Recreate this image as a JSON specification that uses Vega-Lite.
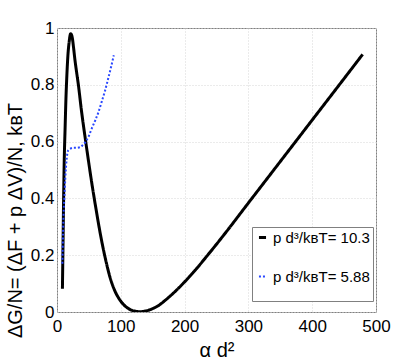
{
  "$schema": "https://vega.github.io/schema/vega-lite/v6.json",
  "autosize": "none",
  "width": 319,
  "height": 284,
  "padding": {"left": 57, "top": 28, "right": 39, "bottom": 48},
  "config": {
    "font": "Liberation Sans",
    "view": {"stroke": "#808080", "strokeWidth": 1},
    "axis": {"domain": false, "ticks": false, "grid": true, "gridColor": "#d6d6d6", "gridDash": [1, 2], "labelColor": "black", "titleColor": "black", "labelFlush": false, "titleFontWeight": "normal"}
  },
  "datasets": {
    "curves": [
      {"series": "p d³/kʙT= 10.3", "ad2": 8.5, "dG": 0.082},
      {"series": "p d³/kʙT= 10.3", "ad2": 9.5, "dG": 0.25},
      {"series": "p d³/kʙT= 10.3", "ad2": 10.5, "dG": 0.42},
      {"series": "p d³/kʙT= 10.3", "ad2": 11.5, "dG": 0.55},
      {"series": "p d³/kʙT= 10.3", "ad2": 12.6, "dG": 0.64},
      {"series": "p d³/kʙT= 10.3", "ad2": 14, "dG": 0.75},
      {"series": "p d³/kʙT= 10.3", "ad2": 15.2, "dG": 0.82},
      {"series": "p d³/kʙT= 10.3", "ad2": 17, "dG": 0.9},
      {"series": "p d³/kʙT= 10.3", "ad2": 19, "dG": 0.95},
      {"series": "p d³/kʙT= 10.3", "ad2": 21.5, "dG": 0.98},
      {"series": "p d³/kʙT= 10.3", "ad2": 24, "dG": 0.965},
      {"series": "p d³/kʙT= 10.3", "ad2": 26, "dG": 0.93},
      {"series": "p d³/kʙT= 10.3", "ad2": 28, "dG": 0.89},
      {"series": "p d³/kʙT= 10.3", "ad2": 31, "dG": 0.84},
      {"series": "p d³/kʙT= 10.3", "ad2": 33.5, "dG": 0.8},
      {"series": "p d³/kʙT= 10.3", "ad2": 38, "dG": 0.715},
      {"series": "p d³/kʙT= 10.3", "ad2": 45, "dG": 0.6},
      {"series": "p d³/kʙT= 10.3", "ad2": 50, "dG": 0.522},
      {"series": "p d³/kʙT= 10.3", "ad2": 55.5, "dG": 0.44},
      {"series": "p d³/kʙT= 10.3", "ad2": 60, "dG": 0.378},
      {"series": "p d³/kʙT= 10.3", "ad2": 64, "dG": 0.325},
      {"series": "p d³/kʙT= 10.3", "ad2": 67.5, "dG": 0.28},
      {"series": "p d³/kʙT= 10.3", "ad2": 72, "dG": 0.228},
      {"series": "p d³/kʙT= 10.3", "ad2": 78, "dG": 0.167},
      {"series": "p d³/kʙT= 10.3", "ad2": 83, "dG": 0.123},
      {"series": "p d³/kʙT= 10.3", "ad2": 90, "dG": 0.078},
      {"series": "p d³/kʙT= 10.3", "ad2": 100, "dG": 0.038},
      {"series": "p d³/kʙT= 10.3", "ad2": 110, "dG": 0.015},
      {"series": "p d³/kʙT= 10.3", "ad2": 120, "dG": 0.004},
      {"series": "p d³/kʙT= 10.3", "ad2": 130, "dG": 0.001},
      {"series": "p d³/kʙT= 10.3", "ad2": 140, "dG": 0.004},
      {"series": "p d³/kʙT= 10.3", "ad2": 150, "dG": 0.012},
      {"series": "p d³/kʙT= 10.3", "ad2": 160, "dG": 0.024},
      {"series": "p d³/kʙT= 10.3", "ad2": 170, "dG": 0.042},
      {"series": "p d³/kʙT= 10.3", "ad2": 185, "dG": 0.072},
      {"series": "p d³/kʙT= 10.3", "ad2": 200, "dG": 0.106},
      {"series": "p d³/kʙT= 10.3", "ad2": 218, "dG": 0.151},
      {"series": "p d³/kʙT= 10.3", "ad2": 235, "dG": 0.197},
      {"series": "p d³/kʙT= 10.3", "ad2": 260, "dG": 0.267},
      {"series": "p d³/kʙT= 10.3", "ad2": 300, "dG": 0.384},
      {"series": "p d³/kʙT= 10.3", "ad2": 350, "dG": 0.53},
      {"series": "p d³/kʙT= 10.3", "ad2": 400, "dG": 0.676},
      {"series": "p d³/kʙT= 10.3", "ad2": 450, "dG": 0.822},
      {"series": "p d³/kʙT= 10.3", "ad2": 479, "dG": 0.907},
      {"series": "p d³/kʙT= 5.88", "ad2": 8.4, "dG": 0.17},
      {"series": "p d³/kʙT= 5.88", "ad2": 9.5, "dG": 0.28},
      {"series": "p d³/kʙT= 5.88", "ad2": 10.5, "dG": 0.36},
      {"series": "p d³/kʙT= 5.88", "ad2": 11.5, "dG": 0.4},
      {"series": "p d³/kʙT= 5.88", "ad2": 13, "dG": 0.47},
      {"series": "p d³/kʙT= 5.88", "ad2": 15.2, "dG": 0.54},
      {"series": "p d³/kʙT= 5.88", "ad2": 17.8, "dG": 0.57},
      {"series": "p d³/kʙT= 5.88", "ad2": 21, "dG": 0.575},
      {"series": "p d³/kʙT= 5.88", "ad2": 25.6, "dG": 0.578},
      {"series": "p d³/kʙT= 5.88", "ad2": 30, "dG": 0.578},
      {"series": "p d³/kʙT= 5.88", "ad2": 36, "dG": 0.58},
      {"series": "p d³/kʙT= 5.88", "ad2": 40, "dG": 0.587},
      {"series": "p d³/kʙT= 5.88", "ad2": 45, "dG": 0.6},
      {"series": "p d³/kʙT= 5.88", "ad2": 50, "dG": 0.62},
      {"series": "p d³/kʙT= 5.88", "ad2": 54.4, "dG": 0.646},
      {"series": "p d³/kʙT= 5.88", "ad2": 60, "dG": 0.675},
      {"series": "p d³/kʙT= 5.88", "ad2": 65, "dG": 0.704},
      {"series": "p d³/kʙT= 5.88", "ad2": 70, "dG": 0.74},
      {"series": "p d³/kʙT= 5.88", "ad2": 75.4, "dG": 0.78},
      {"series": "p d³/kʙT= 5.88", "ad2": 80, "dG": 0.82},
      {"series": "p d³/kʙT= 5.88", "ad2": 85, "dG": 0.865},
      {"series": "p d³/kʙT= 5.88", "ad2": 89, "dG": 0.904}
    ]
  },
  "layer": [
    {
      "data": {"name": "curves"},
      "mark": {"type": "line", "interpolate": "monotone", "clip": true},
      "encoding": {
        "x": {"field": "ad2", "type": "quantitative", "scale": {"domain": [0, 500], "nice": false},
          "axis": {"values": [0, 100, 200, 300, 400, 500], "labelFontSize": 17, "labelPadding": 6, "title": "α d²", "titleFontSize": 20, "titleY": 44, "titleBaseline": "alphabetic"}},
        "y": {"field": "dG", "type": "quantitative", "scale": {"domain": [0, 1], "nice": false},
          "axis": {"values": [0, 0.2, 0.4, 0.6, 0.8, 1], "format": "~g", "labelFontSize": 17, "labelPadding": 3, "title": "ΔG/N= (ΔF + p ΔV)/N,  kʙT", "titleFontSize": 20, "titleAngle": -90, "titleX": -36, "titleY": 192, "titleAlign": "center", "titleBaseline": "alphabetic"}},
        "color": {"field": "series", "type": "nominal",
          "scale": {"domain": ["p d³/kʙT= 10.3", "p d³/kʙT= 5.88"], "range": ["#000000", "#2a48ff"]},
          "legend": {"orient": "none", "legendX": 195, "legendY": 199, "title": " ", "titleOrient": "bottom", "titleFontSize": 9, "titlePadding": 4, "padding": 3, "strokeColor": "#808080", "fillColor": "white", "symbolType": "stroke", "symbolSize": 50, "labelFontSize": 15, "labelOffset": 3, "rowPadding": 23, "labelColor": "black"}},
        "strokeDash": {"field": "series", "type": "nominal",
          "scale": {"domain": ["p d³/kʙT= 10.3", "p d³/kʙT= 5.88"], "range": [[1, 0], [2, 2]]}},
        "strokeWidth": {"field": "series", "type": "nominal",
          "scale": {"domain": ["p d³/kʙT= 10.3", "p d³/kʙT= 5.88"], "range": [3, 2]}}
      }
    },
    {
      "mark": {"type": "text", "fontSize": 17, "align": "center", "baseline": "middle", "color": "black"},
      "encoding": {
        "x": {"datum": 246, "type": "quantitative"},
        "y": {"datum": 0.876, "type": "quantitative"},
        "text": {"value": "FCC"}
      }
    }
  ]
}
